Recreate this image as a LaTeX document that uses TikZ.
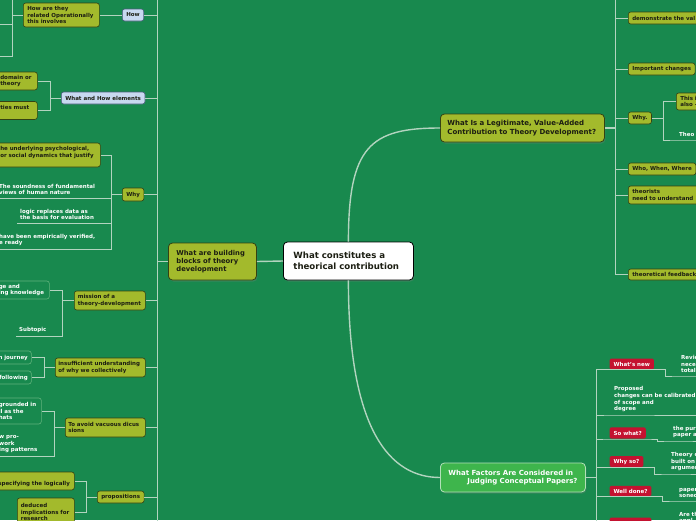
\documentclass[tikz,border=0pt]{standalone}
\usepackage{fontspec}
\setmainfont{DejaVu Sans}
\usetikzlibrary{shadows}
\definecolor{bgc}{RGB}{24,137,78}
\definecolor{linec}{RGB}{178,212,191}
\definecolor{olivef}{RGB}{163,186,44}
\definecolor{oliveb}{RGB}{52,66,18}
\definecolor{bluef}{RGB}{200,217,240}
\definecolor{blueb}{RGB}{72,92,122}
\definecolor{redf}{RGB}{196,18,48}
\definecolor{brightf}{RGB}{62,181,76}
\definecolor{ringb}{RGB}{96,178,124}
\definecolor{inkc}{RGB}{28,30,18}
\newcommand{\nobreaks}{\hyphenpenalty=10000\exhyphenpenalty=10000}
\newcommand{\smallfont}{\fontsize{5.5}{6.6}\selectfont\bfseries\nobreaks}

\begin{document}
\begin{tikzpicture}[x=1pt,y=-1pt,
  every node/.style={font=\smallfont,align=left,inner ysep=0pt},
  link/.style={draw=linec,line width=0.8pt},
  mainlink/.style={draw=linec,line width=1.4pt},
  leaf/.style={rounded corners=2.5pt,inner xsep=4pt,line width=0.6pt},
  olivebox/.style={leaf,fill=olivef,draw=oliveb,text=inkc},
  bluebox/.style={leaf,fill=bluef,draw=blueb,text=inkc},
  redbox/.style={leaf,fill=redf,text=white,rounded corners=1.5pt},
  ringbox/.style={leaf,draw=ringb,text=white},
  note/.style={text=white,inner xsep=3pt,inner ysep=3pt},
  mainbox/.style={rounded corners=4pt,inner xsep=8pt,line width=0.8pt,
    drop shadow={shadow xshift=1pt,shadow yshift=-1.5pt,opacity=0.3}},
  bigfont/.style={font=\fontsize{7}{8.7}\selectfont\bfseries\nobreaks}]
  \useasboundingbox (0,0) rectangle (696,520);
  \fill[bgc] (0,0) rectangle (696,520);
  \clip (0,0) rectangle (696,520);

  \node[mainbox,fill=white,draw=black,text=inkc,font=\fontsize{8.6}{10.5}\selectfont\bfseries\nobreaks,
    text width=110pt,inner xsep=10pt,minimum height=38pt,anchor=west] (central) at (283,261)
    {What constitutes a\\theorical contribution};
  \node[mainbox,fill=olivef,draw=oliveb,text=inkc,font=\fontsize{6.8}{8.2}\selectfont\bfseries\nobreaks,
    text width=72pt,minimum height=37pt,anchor=west] (build) at (168,261.5)
    {What are building\\blocks of theory\\development};
  \node[mainbox,bigfont,fill=olivef,draw=oliveb,text=inkc,text width=150pt,inner xsep=7pt,
    minimum height=28pt,anchor=west] (legit) at (440,128)
    {What Is a Legitimate, Value-Added\\Contribution to Theory Development?};
  \node[mainbox,bigfont,fill=brightf,draw=white!60!brightf,text=white,text width=133pt,
    inner xsep=6pt,minimum height=29pt,anchor=west] (factors) at (440,477.5)
    {\hspace*{2pt}What Factors Are Considered in\\\hspace*{21pt}Judging Conceptual Papers?};

  \node[bluebox,minimum height=12pt,anchor=west] (how) at (122,15) {How};
  \node[bluebox,minimum height=12pt,anchor=west] (wh) at (61,98) {What and How elements};
  \node[olivebox,minimum height=13pt,anchor=west] (whyl) at (122,194.5) {Why};
  \node[olivebox,text width=64pt,inner xsep=3.5pt,minimum height=19pt,anchor=west] (mission) at (74,300.5) {mission of a\\theory-development};
  \node[olivebox,text width=84pt,inner xsep=3pt,minimum height=19pt,anchor=west] (insuff) at (55,367.5) {insufficient understanding\\of why we collectively};
  \node[olivebox,text width=74pt,inner xsep=3pt,minimum height=19pt,anchor=west] (vacuous) at (65,427.5) {To avoid vacuous dicus\\sions};
  \node[olivebox,minimum height=12pt,anchor=west] (props) at (97,497) {propositions};

  \node[olivebox,text width=68pt,minimum height=24pt,anchor=west] (howrel) at (23,15) {How are they\\related Operationally\\this involves};
  \node[olivebox,text width=33pt,minimum height=18pt,anchor=west] (domain) at (-4,81) {domain or\\theory};
  \node[olivebox,text width=33pt,minimum height=18pt,anchor=west] (ties) at (-4,110.5) {ties must\\\mbox{}};
  \node[olivebox,text width=96pt,minimum height=24pt,anchor=west] (psych) at (-4,155) {he underlying psychological,\\or social dynamics that justify\\\mbox{}};
  \node[note,anchor=south west] (sound) at (-4,198) {The soundness of fundamental\\views of human nature};
  \node[note,anchor=south west] (logic) at (17,223) {logic replaces data as\\the basis for evaluation};
  \node[note,anchor=south west] (verified) at (-4,249) {have been empirically verified,\\e ready};
  \node[ringbox,text width=47pt,inner xsep=3.5pt,minimum height=18pt,anchor=west] (knowledge) at (-5,290) {ge and\\ing knowledge};
  \node[note,anchor=south west] (subtopic) at (16,336) {Subtopic};
  \node[ringbox,text width=29.5pt,inner xsep=3.25pt,minimum height=13pt,anchor=west] (journey) at (-5,357.5) {n journey};
  \node[ringbox,text width=29pt,inner xsep=3pt,minimum height=13pt,anchor=west] (following) at (-4,377.5) {following};
  \node[ringbox,text width=39pt,inner xsep=3.5pt,minimum height=26pt,anchor=west] (grounded) at (-5,411) {grounded in\\ll as the\\hats};
  \node[note,anchor=south west] (patterns) at (-4,456) {w pro-\\work\\ing patterns};
  \node[olivebox,text width=73pt,inner xsep=3pt,minimum height=18pt,anchor=west] (logically) at (-5,481) {\vphantom{A}\\specifying the logically};
  \node[olivebox,text width=50pt,inner xsep=3.5pt,minimum height=28pt,anchor=west] (deduced) at (17,512) {deduced\\implications for\\research};

  \node[olivebox,text width=72pt,minimum height=12pt,anchor=west] (demo) at (628,18) {demonstrate the val};
  \node[olivebox,minimum height=12pt,anchor=west] (important) at (628,69) {Important changes};
  \node[olivebox,minimum height=12pt,anchor=west] (whyd) at (628,118) {Why.};
  \node[olivebox,text width=30pt,minimum height=17pt,anchor=west] (thisi) at (676,101.5) {This i\\also -};
  \node[note,text width=40pt,anchor=south west] (theo) at (676,140) {Theo};
  \node[olivebox,minimum height=12pt,anchor=west] (who) at (628,169) {Who, When, Where};
  \node[olivebox,text width=66pt,minimum height=18pt,anchor=west] (theorists) at (628,195) {theorists\\need to understand};
  \node[olivebox,text width=66pt,minimum height=11pt,anchor=west] (feedback) at (628,274.5) {theoretical feedback};

  \node[redbox,minimum height=11pt,anchor=west] (whatsnew) at (609.3,364) {What's new};
  \node[redbox,minimum height=11.4pt,anchor=west] (sowhat) at (609.3,433) {So what?};
  \node[redbox,minimum height=11pt,anchor=west] (whyso) at (609.3,461.5) {Why so?};
  \node[redbox,minimum height=10.5pt,anchor=west] (welldone) at (609.3,491) {Well done?};
  \node[redbox,minimum height=11pt,minimum width=41.7pt,anchor=west] (fifth) at (609.3,523) {};
  \node[note,anchor=south west] (proposed) at (611,415) {Proposed\\changes can be calibrated\\of scope and\\degree};
  \node[note,text width=40pt,anchor=south west] (review) at (678,376) {Revie\\nece\\total};
  \node[note,text width=40pt,anchor=south west] (purpose) at (670,441) {the pur\\paper a};
  \node[note,text width=40pt,anchor=south west] (theoryc) at (668,474) {Theory c\\built on\\argumen};
  \node[note,text width=40pt,anchor=south west] (paperson) at (676,501) {paper\\soned};
  \node[note,text width=40pt,anchor=south west] (areth) at (676,527) {Are th\\appl};

  \draw[mainlink] (central.west) -- (build.east);
  \draw[mainlink] (central.north) .. controls +(0,-95) and +(-70,0) .. (legit.west);
  \draw[mainlink] (central.south) .. controls +(0,150) and +(-50,0) .. (factors.west);

  \coordinate (ltop) at (157,-5);
  \coordinate (lbot) at (157,525);
  \draw[mainlink] (build.west) -- (build.west -| ltop) coordinate (lt);
  \draw[link] (ltop) -- (lbot);
  \foreach \n in {how,wh,whyl,mission,insuff,vacuous,props} \draw[link] (lt) |- (\n.east);

  \coordinate (hr0) at (12,-5);
  \coordinate (hr1) at (-5,24);
  \coordinate (hr2) at (-5,56);
  \draw[link] (how.west) -- (howrel.east);
  \draw[link] (howrel.west) -| (hr0);
  \foreach \n in {hr1,hr2} \draw[link] (hr0) |- (\n);
  \foreach \n in {domain,ties} \draw[link] (wh.west) -- ++(-11,0) |- (\n.east);
  \foreach \n in {psych.east,sound.south west,logic.south west,verified.south west}
    \draw[link] (whyl.west) -- ++(-11,0) |- (\n);
  \foreach \n in {knowledge.east,subtopic.south west} \draw[link] (mission.west) -- ++(-12,0) |- (\n);
  \foreach \n in {journey.east,following.east} \draw[link] (insuff.west) -- ++(-11,0) |- (\n);
  \foreach \n in {grounded.east,patterns.south west} \draw[link] (vacuous.west) -- ++(-11,0) |- (\n);
  \foreach \n in {logically.east,deduced.east} \draw[link] (props.west) -- ++(-11,0) |- (\n);

  \coordinate (rtop) at (615,-5);
  \draw[mainlink] (legit.east) -- (legit.east -| rtop) coordinate (rt);
  \draw[link] (rtop) |- (feedback.west);
  \foreach \n in {demo,important,whyd,who,theorists} \draw[link] (rt) |- (\n.west);
  \draw[link] (whyd.east) -- ++(12,0) |- (thisi.west);
  \draw[link] (whyd.east) -- ++(12,0) |- (theo.south west) -- (theo.south east);

  \draw[mainlink] (factors.east) -- ++(11,0) coordinate (ft);
  \draw[link] (ft) |- (proposed.south west) -- (proposed.south east);
  \foreach \p/\c in {whatsnew/review,sowhat/purpose,whyso/theoryc,welldone/paperson,fifth/areth}
    \draw[link] (ft) |- (\p.south west) -- (\p.south east) -- ++(11,0) |- (\c.south west) -- (\c.south east);
\end{tikzpicture}
\end{document}
